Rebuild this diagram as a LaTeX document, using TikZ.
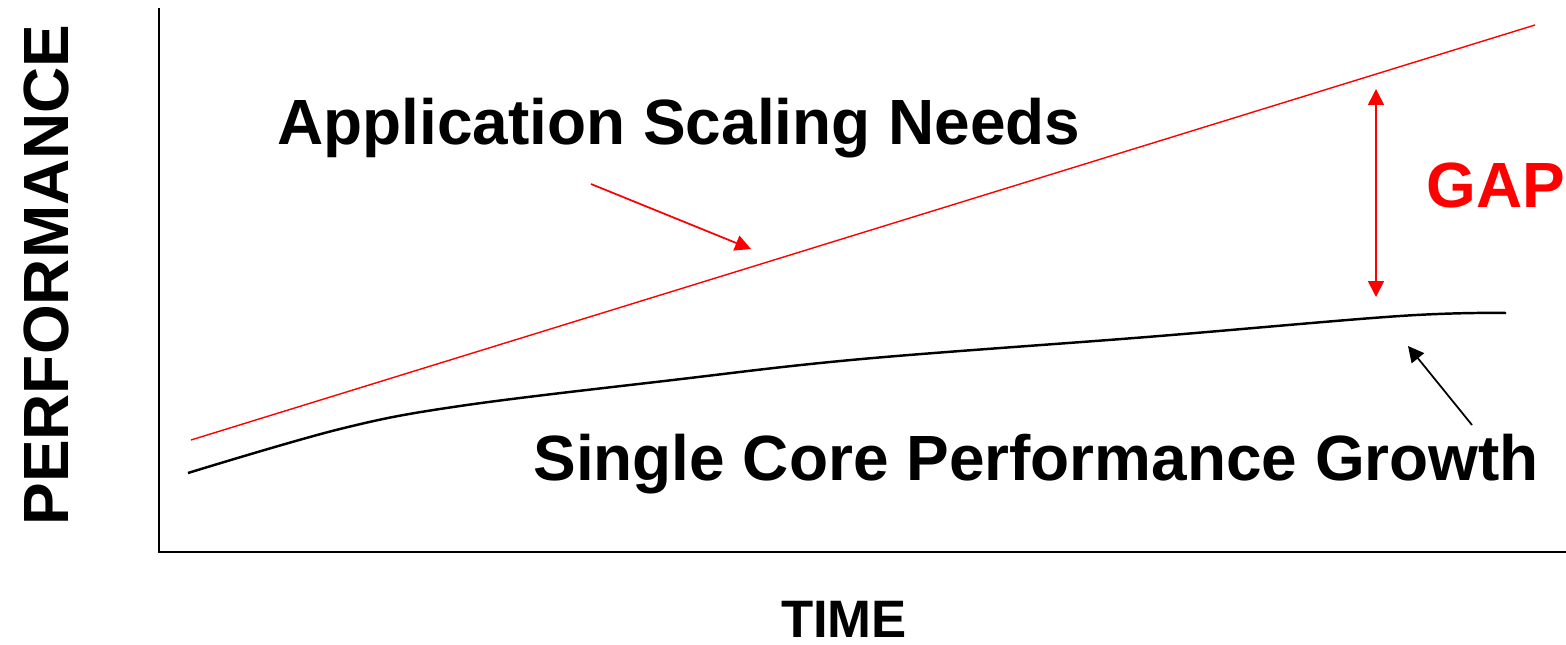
\documentclass[tikz,border=0pt]{standalone}
\usepackage{fontspec}
\setmainfont{Liberation Sans}
\usetikzlibrary{arrows.meta}
\tikzset{
  lbl/.style={inner sep=0,font=\fontsize{36.4}{43}\selectfont\bfseries},
  tip/.style={-{Triangle[length=9pt,width=9pt]}},
}
\begin{document}
\begin{tikzpicture}[x=0.02cm,y=-0.02cm]
\useasboundingbox (0,0) rectangle (1566,645);

% axes
\draw[line width=1.2pt] (159,8) -- (159,552) -- (1566,552);

\node[lbl,rotate=90,anchor=base] (perf) at (68,275) {PERFORMANCE};
\node[lbl,anchor=base,font=\fontsize{30}{36}\selectfont\bfseries] (time) at (844,637) {TIME};

% needs line
\coordinate (n0) at (191,440);
\coordinate (n1) at (1535,25);
\draw[red,line width=0.8pt] (n0) -- (n1);

% single core curve
\draw[line width=1.4pt] plot[smooth,tension=0.6] coordinates {(188,473) (340,429) (460,406) (673,380) (862,359) (1147,337) (1400,316) (1506,313)};

\node[lbl,anchor=base west] (app) at (277,145) {Application Scaling Needs};
\node[lbl,anchor=base west] (core) at (533,480) {Single Core Performance Growth};
\node[lbl,anchor=base west,red] (gap) at (1426,208) {GAP};

\coordinate (a0) at (591,184);
\coordinate (a1) at (751,249);
\draw[red,line width=1pt,tip] (a0) -- (a1);

\coordinate (b0) at (1472,425);
\coordinate (b1) at (1408,346);
\draw[line width=1pt,tip] (b0) -- (b1);

\coordinate (g0) at (1376,89);
\coordinate (g1) at (1376,297);
\draw[red,line width=1pt,{Triangle[length=9pt,width=9pt]}-{Triangle[length=9pt,width=9pt]}] (g0) -- (g1);

\end{tikzpicture}
\end{document}
